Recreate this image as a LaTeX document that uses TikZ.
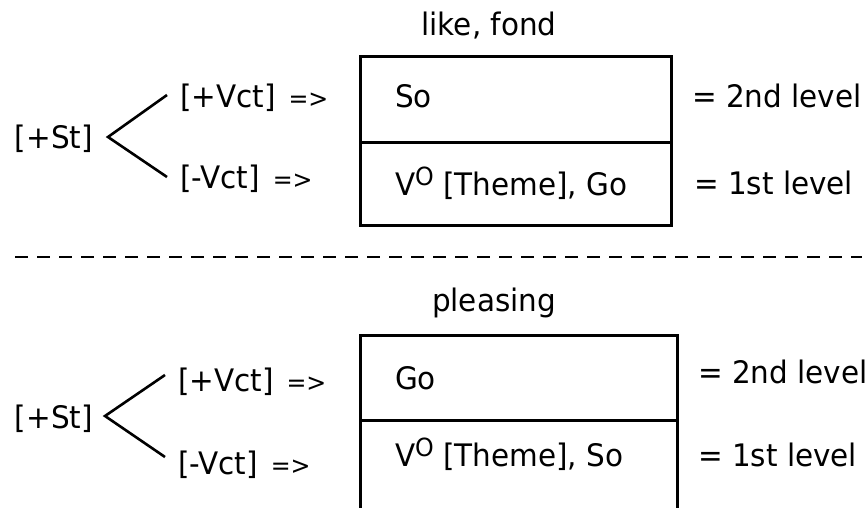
\documentclass[tikz,border=0pt]{standalone}
\usepackage{fontspec}
\setmainfont{DejaVu Sans}[FakeStretch=0.95]
\begin{document}
\begin{tikzpicture}[x=1pt,y=-1pt,
  txt/.style={inner sep=0pt,outer sep=0pt,font=\fontsize{31}{34}\selectfont},
  box/.style={draw,line width=2.8pt,inner sep=0pt},
  lnk/.style={line width=2.6pt},
  sep/.style={dashed,line width=2.5pt,dash pattern=on 13pt off 9pt}]
\newcommand{\arr}{\hspace{13pt}{\fontsize{25}{28}\selectfont =>}}
\newcommand{\vsup}{V\raisebox{10pt}{\fontsize{25}{26}\selectfont O}}
\path[use as bounding box,clip] (0,0) rectangle (868,508);

% ---------- top ----------
\node[txt,anchor=base] (t1) at (489,36) {like, fond};
\node[box,anchor=north west,minimum width=311pt,minimum height=86pt] (b1u) at (359,55) {};
\node[box,anchor=north west,minimum width=311pt,minimum height=83pt] (b1l) at (359,141) {};
\node[txt,anchor=base west] (so1) at (395,108) {So};
\node[txt,anchor=base west] (v1) at (395,196) {\vsup{} [Theme], Go};
\node[txt,anchor=base west] (l12) at (692,108) {= 2nd level};
\node[txt,anchor=base west] (l11) at (694,194) {= 1st level};
\node[txt,anchor=base west] (st1) at (15,149) {[+St]};
\node[txt,anchor=base west] (vp1) at (180,108) {[+Vct]\arr};
\node[txt,anchor=base west] (vm1) at (180,189) {[-Vct]\arr};
\coordinate (a1) at (108,137);
\coordinate (p1) at (167,95);
\coordinate (m1) at (167,177);
\draw[lnk] (p1) -- (a1) -- (m1);

% ---------- separator ----------
\coordinate (d1) at (15,257);
\coordinate (d2) at (862,257);
\draw[sep] (d1) -- (d2);

% ---------- bottom ----------
\node[txt,anchor=base] (t2) at (494,311) {pleasing};
\node[box,anchor=north west,minimum width=317pt,minimum height=85pt] (b2u) at (359,334) {};
\node[box,anchor=north west,minimum width=317pt,minimum height=120pt] (b2l) at (359,419) {};
\node[txt,anchor=base west] (go2) at (395,389) {Go};
\node[txt,anchor=base west] (v2) at (395,466) {\vsup{} [Theme], So};
\node[txt,anchor=base west] (l22) at (698,383) {= 2nd level};
\node[txt,anchor=base west] (l21) at (698,466) {= 1st level};
\node[txt,anchor=base west] (st2) at (15,428) {[+St]};
\node[txt,anchor=base west] (vp2) at (178,391) {[+Vct]\arr};
\node[txt,anchor=base west] (vm2) at (178,474) {[-Vct]\arr};
\coordinate (a2) at (105,416);
\coordinate (p2) at (165,375);
\coordinate (m2) at (165,457);
\draw[lnk] (p2) -- (a2) -- (m2);
\end{tikzpicture}
\end{document}
